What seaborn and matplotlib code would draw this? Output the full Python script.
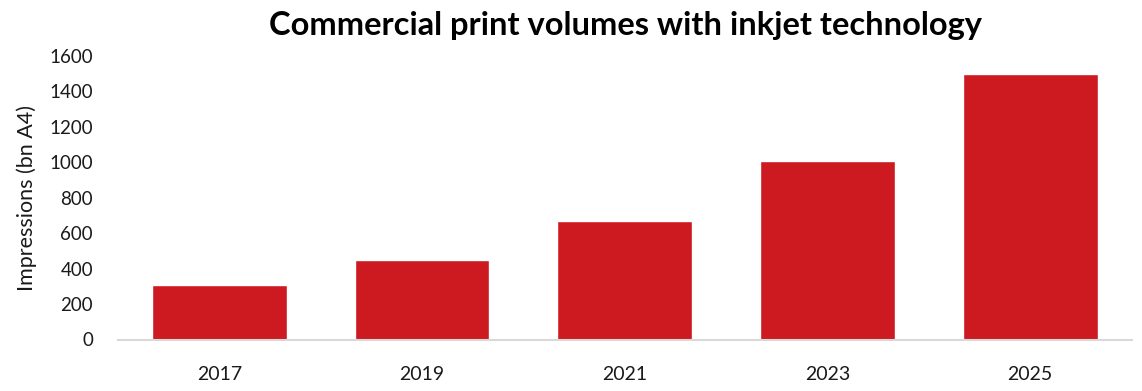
import matplotlib
matplotlib.use("Agg")
import matplotlib.pyplot as plt
import seaborn as sns
import pandas as pd

years = ["2017", "2019", "2021", "2023", "2025"]
impressions = [305, 450, 670, 1005, 1500]
y_ticks = [0, 200, 400, 600, 800, 1000, 1200, 1400, 1600]

sns.set_theme(style="white")
plt.rcParams["font.family"] = ["Lato", "DejaVu Sans"]

df = pd.DataFrame({"year": years, "impressions": impressions})

fig = plt.figure(figsize=(11.42, 3.91), dpi=100)
ax = fig.add_axes([118 / 1142, 1 - 339.5 / 391, (1131.5 - 118) / 1142, (339.5 - 56) / 391])

sns.barplot(data=df, x="year", y="impressions", color="#CD1A21", saturation=1,
            width=0.665, ax=ax)

ax.set_xlim(-0.5, len(years) - 0.5)
ax.set_ylim(0, 1600)
ax.set_yticks(y_ticks)
ax.set_yticklabels([str(v) for v in y_ticks], fontsize=13.5)
ax.tick_params(axis="x", labelsize=14, pad=19, length=0)
ax.tick_params(axis="y", length=0, pad=18)
for lbl in ax.get_xticklabels() + ax.get_yticklabels():
    lbl.set_color("#1a1a1a")

for side in ["top", "right", "left"]:
    ax.spines[side].set_visible(False)
ax.spines["bottom"].set_color("#D9D9D9")
ax.spines["bottom"].set_linewidth(1.5)

ax.set_xlabel("")
ax.set_ylabel("Impressions (bn A4)", fontsize=15.5, color="#1a1a1a", labelpad=9)
fig.text(0.548, 0.935, "Commercial print volumes with inkjet technology",
         ha="center", va="center", fontsize=23.5, fontweight="bold", color="black")

fig.savefig("out.png", dpi=100)
